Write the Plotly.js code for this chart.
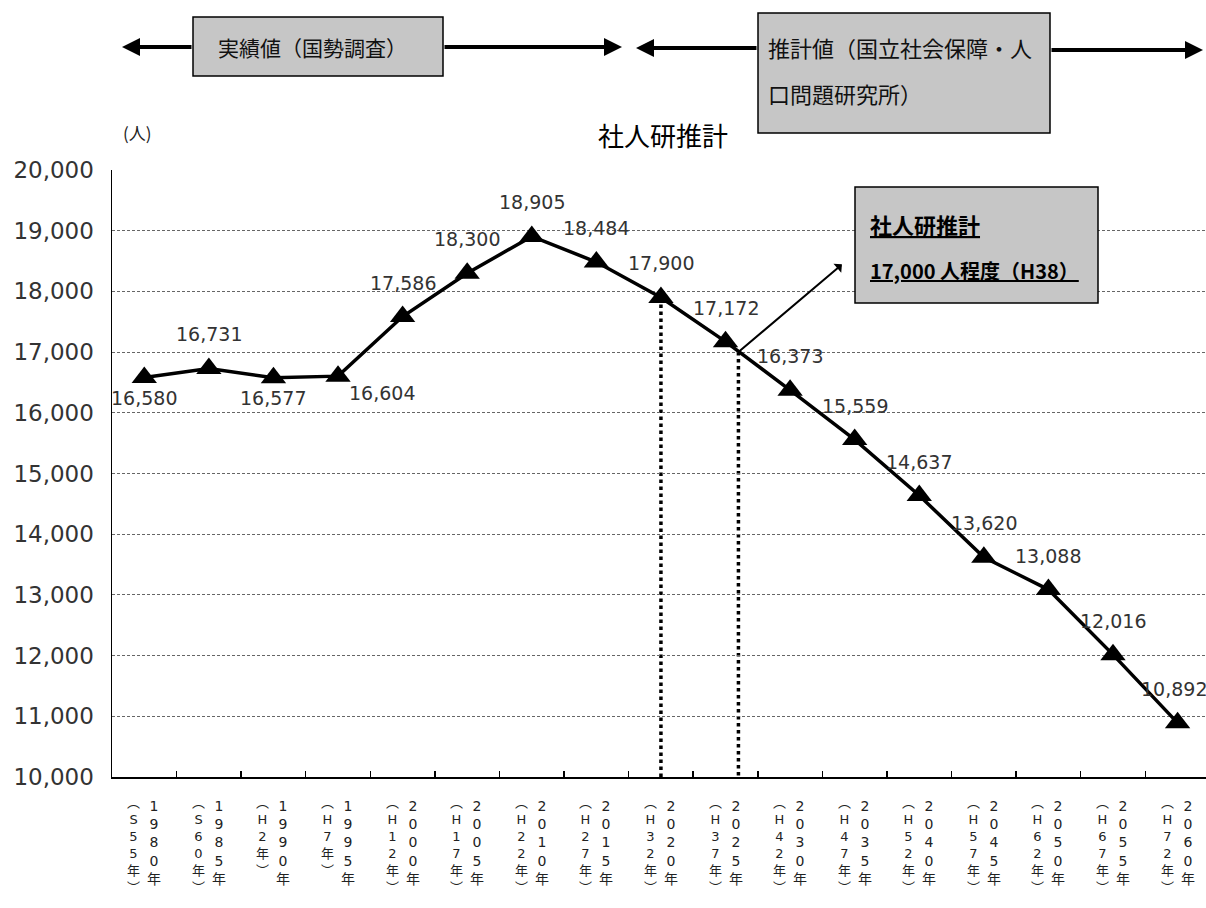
<!DOCTYPE html>
<html>
<head>
<meta charset="utf-8">
<script src="https://cdn.plot.ly/plotly-3.0.1.min.js"></script>
<style>html,body{margin:0;padding:0;background:#fff;}#chart{width:1206px;height:908px;}</style>
</head>
<body>
<div id="chart"></div>
<script>
// ---- data ----
const years = ['1980','1985','1990','1995','2000','2005','2010','2015','2020','2025','2030','2035','2040','2045','2050','2055','2060'];
const eras = ['S55','S60','H2','H7','H12','H17','H22','H27','H32','H37','H42','H47','H52','H57','H62','H67','H72'];
const population = [16580,16731,16577,16604,17586,18300,18905,18484,17900,17172,16373,15559,14637,13620,13088,12016,10892];
const labelPlace = ['b','t','b','br','t','t','t','t','t','t','t','t','t','t','t','t','tl'];
const chartTitle = '社人研推計';
const unitLabel = '(人)';
const actualLabel = '実績値（国勢調査）';
const projLabel1 = '推計値（国立社会保障・人';
const projLabel2 = '口問題研究所）';
const targetYear = 2026;      // H38
const targetValue = 17000;
const targetText1 = '社人研推計';
const targetText2 = '17,000 人程度（H38）';
const markYear = '2020';

// ---- layout geometry ----
const W = 1206, H = 908, L = 112, R = 0, T = 170, B = 131;
const plotW = W - L - R, plotH = H - T - B;
const pxX = px => (px - L) / plotW;
const pxY = py => (H - B - py) / plotH;

const numFont = 'DejaVu Sans, Noto Sans CJK JP, sans-serif';
const cjkFont = 'Noto Sans CJK JP, sans-serif';

const annotations = [];
const shapes = [];

// data labels
const shiftMap = {t: [0, 34], b: [0, -20], br: [44, -17], tl: [-4, 34]};
population.forEach((v, i) => {
  const s = shiftMap[labelPlace[i]];
  annotations.push({
    x: i, y: v, xref: 'x', yref: 'y', xanchor: 'center', yanchor: 'middle', showarrow: false,
    text: v.toLocaleString('en-US'), xshift: s[0], yshift: s[1],
    font: {family: numFont, size: 19, color: '#333'}
  });
});

// vertical two-column tick labels (one annotation per column)
const leftFont = 13, rightFont = 14;
const leftStep = leftFont * 1.3, rightStep = rightFont * 1.3;
years.forEach((yr, i) => {
  const left = ['︵'].concat(eras[i].split('')).concat(['年', '︶']);
  const right = yr.split('').concat(['年']);
  annotations.push({x: i, xref: 'x', yref: 'paper', y: pxY(803 + (left.length - 1) / 2 * leftStep),
    xanchor: 'right', yanchor: 'middle', xshift: -3, showarrow: false, text: left.join('<br>'), borderpad: 0,
    font: {family: numFont, size: leftFont, color: '#222'}});
  annotations.push({x: i, xref: 'x', yref: 'paper', y: pxY(806 + (right.length - 1) / 2 * rightStep),
    xanchor: 'left', yanchor: 'middle', xshift: 2, showarrow: false, text: right.join('<br>'), borderpad: 0,
    font: {family: numFont, size: rightFont, color: '#222'}});
});

// unit label
annotations.push({xref: 'paper', yref: 'paper', x: pxX(137), y: pxY(133), xanchor: 'center', yanchor: 'middle',
  showarrow: false, text: unitLabel, font: {family: cjkFont, size: 17, color: '#222'}});

// top boxes
const boxFill = '#c6c6c6';
shapes.push({type: 'rect', xref: 'paper', yref: 'paper', x0: pxX(193), x1: pxX(443), y0: pxY(76), y1: pxY(17),
  fillcolor: boxFill, line: {color: '#000', width: 1.5}, layer: 'above'});
shapes.push({type: 'rect', xref: 'paper', yref: 'paper', x0: pxX(758), x1: pxX(1050), y0: pxY(133), y1: pxY(13),
  fillcolor: boxFill, line: {color: '#000', width: 1.5}, layer: 'above'});
shapes.push({type: 'rect', xref: 'paper', yref: 'paper', x0: pxX(855), x1: pxX(1098), y0: pxY(303), y1: pxY(187),
  fillcolor: boxFill, line: {color: '#000', width: 1.5}, layer: 'above'});

annotations.push({xref: 'paper', yref: 'paper', x: pxX(312), y: pxY(47), xanchor: 'center', yanchor: 'middle',
  showarrow: false, text: actualLabel, font: {family: cjkFont, size: 21, color: '#111'}});
annotations.push({xref: 'paper', yref: 'paper', x: pxX(766), y: pxY(47), xanchor: 'left', yanchor: 'middle',
  showarrow: false, text: projLabel1, font: {family: cjkFont, size: 22, color: '#111'}});
annotations.push({xref: 'paper', yref: 'paper', x: pxX(766), y: pxY(93), xanchor: 'left', yanchor: 'middle',
  showarrow: false, text: projLabel2, font: {family: cjkFont, size: 22, color: '#111'}});
annotations.push({xref: 'paper', yref: 'paper', x: pxX(868), y: pxY(224), xanchor: 'left', yanchor: 'middle',
  showarrow: false, text: '<b><u>' + targetText1 + '</u></b>', font: {family: cjkFont, size: 22, color: '#000'}});
annotations.push({xref: 'paper', yref: 'paper', x: pxX(868), y: pxY(270), xanchor: 'left', yanchor: 'middle',
  showarrow: false, text: '<b><u>' + targetText2 + '</u></b>', font: {family: cjkFont, size: 20, color: '#000'}});

// top arrows
const topArrow = (tipX, tipY, ax) => ({xref: 'paper', yref: 'paper', x: pxX(tipX), y: pxY(tipY),
  axref: 'pixel', ayref: 'pixel', ax: ax, ay: 0, text: '', showarrow: true, arrowhead: 2,
  arrowsize: 0.9, arrowwidth: 4, arrowcolor: '#000', standoff: 0});
annotations.push(topArrow(122, 47, 71));
annotations.push(topArrow(622, 47, -179));
annotations.push(topArrow(636, 48, 122));
annotations.push(topArrow(1203, 50, -153));

// projection marker position (H38)
const i2025 = years.indexOf('2025');
const targetPos = i2025 + (targetYear - 2025) / 5;
const iMark = years.indexOf(markYear);

shapes.push({type: 'line', xref: 'x', yref: 'y', x0: iMark, x1: iMark, y0: population[iMark], y1: 10000,
  line: {color: '#000', width: 3.5, dash: 'dot'}, layer: 'below'});
shapes.push({type: 'line', xref: 'x', yref: 'y', x0: targetPos, x1: targetPos, y0: targetValue, y1: 10000,
  line: {color: '#000', width: 3.5, dash: 'dot'}, layer: 'below'});

annotations.push({xref: 'x', yref: 'y', x: targetPos, y: targetValue, axref: 'pixel', ayref: 'pixel',
  ax: 105, ay: -89, text: '', showarrow: true, arrowside: 'start', arrowhead: 2, arrowsize: 1.2,
  arrowwidth: 2, arrowcolor: '#000', standoff: 0, startstandoff: 0});

const trace = {
  type: 'scatter', mode: 'lines+markers', x: years, y: population,
  line: {color: '#000', width: 3.5},
  marker: {symbol: 'triangle-up', size: 22, color: '#000'},
  cliponaxis: false, hoverinfo: 'skip'
};

const layout = {
  width: W, height: H, autosize: false,
  margin: {l: L, r: R, t: T, b: B, pad: 0},
  paper_bgcolor: '#fff', plot_bgcolor: '#fff',
  showlegend: false,
  title: {text: chartTitle, font: {family: cjkFont, size: 26, color: '#000'},
    xref: 'paper', x: pxX(663), xanchor: 'center', yref: 'container', y: 1 - 137 / H, yanchor: 'middle'},
  xaxis: {type: 'category', range: [-0.5, 16.44], showgrid: false, zeroline: false,
    showline: true, linecolor: '#000', linewidth: 1.5,
    ticks: 'inside', tickson: 'boundaries', ticklen: 6, tickwidth: 1.5, tickcolor: '#000',
    showticklabels: false, fixedrange: true},
  yaxis: {range: [10000, 20000], dtick: 1000, tick0: 10000, tickformat: ',d',
    showgrid: true, gridcolor: '#666', gridwidth: 1, griddash: '3px,2px', zeroline: false,
    showline: true, linecolor: '#000', linewidth: 1.5,
    ticks: 'outside', ticklen: 12, tickcolor: 'rgba(0,0,0,0)',
    tickfont: {family: numFont, size: 23, color: '#333'}, fixedrange: true},
  annotations: annotations,
  shapes: shapes
};

Plotly.newPlot('chart', [trace], layout, {displayModeBar: false, staticPlot: true});
</script>
</body>
</html>
